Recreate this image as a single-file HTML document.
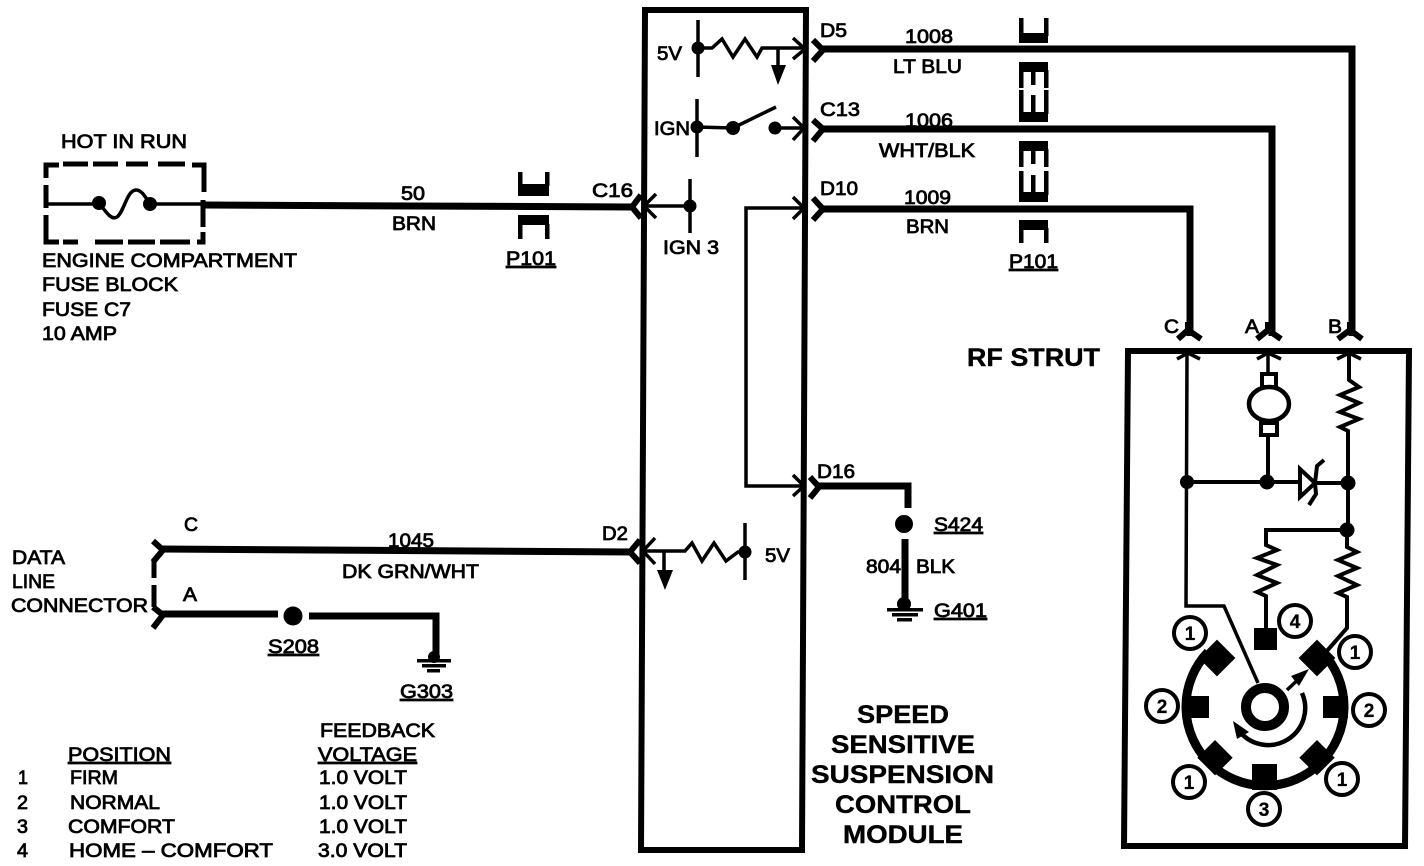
<!DOCTYPE html>
<html><head><meta charset="utf-8"><style>
html,body{margin:0;padding:0;background:#fff;width:1424px;height:866px;overflow:hidden}
svg{display:block}
text{font-family:"Liberation Sans",sans-serif;font-size:19.5px;fill:#000;stroke:#000;stroke-width:.8px}
.b{font-weight:bold;font-size:25px;stroke-width:.4px}
.n{font-weight:bold;font-size:19px;text-anchor:middle;stroke-width:.3px}
.w{fill:none;stroke:#000;stroke-linejoin:miter}
</style></head><body>
<svg width="1424" height="866" viewBox="0 0 1424 866" xmlns="http://www.w3.org/2000/svg">
<rect width="1424" height="866" fill="#fff"/>

<!-- boxes -->
<path class="w" stroke-width="6" d="M645 10H806L802 850H641Z"/>
<path class="w" stroke-width="6" d="M1128 351H1409L1405 846H1124Z"/>

<!-- thick wires -->
<g class="w" stroke-width="7">
<path d="M820 49H1352V336"/>
<path d="M820 129H1272V336"/>
<path d="M820 209H1190V336"/>
<path d="M204 205L632 207"/>
<path d="M160 549L632 552"/>
<path d="M160 614H278"/>
<path d="M309 616H436V660"/>
<path d="M818 486H908V508"/>
<path d="M905 539V602"/>
</g>
<!-- connector chevrons -->
<g class="w" stroke-width="6">
<path d="M813 40L823 50L813 61"/>
<path d="M813 120L823 129L813 141"/>
<path d="M813 198L823 209L813 220"/>
<path d="M810 477L819 487L810 498"/>
<path d="M641 195L632 207L641 218"/>
<path d="M640 540L630 552L640 563"/>
<path d="M153 541L163 550L153 562"/>
<path d="M153 607L163 615L153 628"/>
<path d="M154 560V578M154 585V607" stroke-width="5"/>
<path d="M1178 339L1188 330L1201 339M1188 322V332"/>
<path d="M1257 339L1268 330L1281 339M1268 322V332"/>
<path d="M1338 339L1350 330L1362 339M1350 322V332"/>
</g>
<!-- internal arrows -->
<g class="w" stroke-width="3.5">
<path d="M793 38L805 49L793 59"/>
<path d="M793 117L804 128L793 140"/>
<path d="M793 197L804 208L793 219"/>
<path d="M793 475L804 486L793 496"/>
<path d="M656 194L644 206L656 218"/>
<path d="M655 538L643 551L655 564"/>
<path d="M1177 359L1188 353L1200 359"/>
<path d="M1257 359L1268 353L1281 359"/>
<path d="M1337 359L1349 353L1361 359"/>
<!-- module internals -->
<path d="M698 20V77"/>
<path d="M702 48H712L722 39L733 57L745 39L757 57L762 48H805"/>
<path d="M778 49V70"/>
<path d="M697 99V157"/>
<path d="M697 127L733 128L776 107"/>
<path d="M775 128H804"/>
<path d="M690 179V233"/>
<path d="M690 206H645"/>
<path d="M804 208H746V486H804"/>
<path d="M645 551H685L692 543L702 561L714 543L726 561L738 552H745"/>
<path d="M664 551V575"/>
<path d="M745 523V580"/>
<!-- strut internals -->
<path d="M1187 355L1186 606H1224L1258 683"/>
<path d="M1268 355V374"/>
<path d="M1268 435V482" stroke-width="4"/>
<path d="M1187 482H1300" stroke-width="4"/>
<path d="M1315 483H1348" stroke-width="4"/>
<path d="M1349 355V380L1359 387L1340 395L1359 403L1340 412L1359 419L1340 427L1348 431V530" stroke-width="4"/>
<path d="M1347 530H1266V545L1277 550L1257 558L1277 565L1257 575L1277 583L1257 592L1266 596V630" stroke-width="4"/>
<path d="M1347 530V547L1357 552L1338 560L1357 568L1338 576L1357 585L1338 593L1347 597V628L1326 652" stroke-width="4"/>
<rect x="1262" y="374" width="14" height="13" stroke-width="4"/>
<rect x="1261" y="423" width="16" height="12" stroke-width="4"/>
<ellipse cx="1269" cy="404" rx="20" ry="17" stroke-width="4.5"/>
<path d="M1315 483L1300 469V497Z" stroke-width="4"/>
<path d="M1324 460L1317 466L1315 483L1316 494L1309 505" stroke-width="4"/>
</g>
<path d="M771 65H786L778 85Z"/>
<path d="M657 570H673L665 590Z"/>

<!-- nodes -->
<g>
<circle cx="698" cy="48" r="6.5"/><circle cx="697" cy="127" r="6.5"/><circle cx="733" cy="128" r="7"/><circle cx="775" cy="128" r="6.5"/>
<circle cx="690" cy="206" r="6.5"/><circle cx="745" cy="552" r="6.5"/>
<circle cx="904" cy="524" r="9"/><circle cx="293" cy="616" r="9.5"/>
<circle cx="1187" cy="482" r="7"/><circle cx="1267" cy="482" r="7.5"/><circle cx="1348" cy="483" r="7.5"/><circle cx="1347" cy="530" r="7.5"/>
<circle cx="99" cy="203" r="7"/><circle cx="150" cy="204" r="7"/>
</g>

<!-- fuse -->
<g class="w" stroke-width="4">
<path d="M47 204H99M150 204H204" stroke-width="3.5"/>
<path d="M99 203C108 215 112 220 117 217C124 212 127 190 136 190C142 190 146 198 150 204" stroke-width="3.5"/>
<path d="M59 165H46V178M63 164H88M93 164H118M126 164H148M158 164H185M192 165H204V192M46 185V208M46 215V242H59M63 242H78M95 242H123M128 242H155M160 242H190M197 242H203V232M203 200V227" stroke-width="5"/>
</g>

<!-- grounds -->
<g fill="#000">
<circle cx="904" cy="604" r="7"/>
<rect x="887" y="608" width="36" height="3.5"/><rect x="892" y="613" width="26" height="3.5"/><rect x="897" y="618" width="15" height="3.5"/>
<circle cx="434" cy="657" r="6"/>
<rect x="417" y="659" width="34" height="3.5"/><rect x="422" y="664" width="24" height="3.5"/><rect x="427" y="669" width="13" height="3.5"/>
</g>

<!-- P101 left -->
<g fill="#000">
<rect x="518" y="172" width="4.5" height="14"/><rect x="545" y="172" width="4.5" height="14"/><rect x="518" y="184" width="31" height="12"/>
<rect x="518" y="215" width="31" height="10"/><rect x="518" y="224" width="4.5" height="15"/><rect x="545" y="224" width="4.5" height="15"/>
<!-- P101 right stack -->
<rect x="1019" y="18" width="4.5" height="18"/><rect x="1044" y="18" width="4.5" height="18"/><rect x="1019" y="33" width="29" height="10"/>
<rect x="1019" y="62" width="29" height="10"/><rect x="1019" y="70" width="4.5" height="18"/><rect x="1031" y="70" width="4.5" height="15"/><rect x="1044" y="70" width="4.5" height="18"/>
<rect x="1019" y="90" width="4.5" height="24"/><rect x="1031" y="95" width="4.5" height="19"/><rect x="1044" y="90" width="4.5" height="24"/><rect x="1019" y="112" width="29" height="10"/>
<rect x="1019" y="141" width="29" height="10"/><rect x="1019" y="149" width="4.5" height="18"/><rect x="1031" y="149" width="4.5" height="15"/><rect x="1044" y="149" width="4.5" height="18"/>
<rect x="1019" y="171" width="4.5" height="24"/><rect x="1031" y="175" width="4.5" height="20"/><rect x="1044" y="171" width="4.5" height="24"/><rect x="1019" y="192" width="29" height="10"/>
<rect x="1019" y="220" width="29" height="10"/><rect x="1019" y="228" width="4.5" height="15"/><rect x="1044" y="228" width="4.5" height="15"/>
</g>

<!-- switch mechanism -->
<path class="w" stroke-width="9" d="M1208 652A79 79 0 1 0 1322 652"/>
<g fill="#000">
<rect x="1183" y="696" width="26" height="22"/><rect x="1323" y="696" width="25" height="22"/><rect x="1252" y="764" width="25" height="26"/>
<rect x="1204" y="645" width="26" height="26" transform="rotate(45 1217 658)"/>
<rect x="1304" y="645" width="26" height="26" transform="rotate(45 1317 658)"/>
<rect x="1203" y="745" width="25" height="25" transform="rotate(45 1215 757)"/>
<rect x="1305" y="745" width="25" height="25" transform="rotate(45 1317 757)"/>
<rect x="1254" y="628" width="23" height="22"/>
</g>
<circle cx="1265" cy="707" r="19" fill="#fff" stroke="#000" stroke-width="10"/>
<path class="w" stroke-width="3.5" d="M1287 690L1304 674"/>
<path d="M1309 669L1291 676L1299 686Z"/>
<path class="w" stroke-width="4.5" d="M1302 693A37 37 0 0 1 1240 732"/>
<path d="M1233 721L1249 732L1237 739Z"/>
<g fill="#fff" stroke="#000" stroke-width="4">
<circle cx="1190" cy="633" r="16"/><circle cx="1355" cy="652" r="16"/><circle cx="1162" cy="706" r="16"/><circle cx="1369" cy="710" r="16"/>
<circle cx="1189" cy="782" r="16"/><circle cx="1342" cy="779" r="16"/><circle cx="1264" cy="809" r="16"/><circle cx="1295" cy="621" r="16"/>
</g>
<text class="n" x="1190" y="640">1</text><text class="n" x="1355" y="659">1</text><text class="n" x="1162" y="713">2</text><text class="n" x="1369" y="717">2</text>
<text class="n" x="1189" y="789">1</text><text class="n" x="1342" y="786">1</text><text class="n" x="1264" y="816">3</text><text class="n" x="1295" y="628">4</text>

<!-- labels -->
<text x="61" y="148" textLength="126" lengthAdjust="spacingAndGlyphs">HOT IN RUN</text>
<text x="42" y="267" textLength="255" lengthAdjust="spacingAndGlyphs">ENGINE COMPARTMENT</text>
<text x="42" y="291" textLength="136" lengthAdjust="spacingAndGlyphs">FUSE BLOCK</text>
<text x="42" y="316" textLength="89" lengthAdjust="spacingAndGlyphs">FUSE C7</text>
<text x="42" y="340" textLength="75" lengthAdjust="spacingAndGlyphs">10 AMP</text>
<text x="401" y="200" textLength="24" lengthAdjust="spacingAndGlyphs">50</text>
<text x="392" y="230" textLength="44" lengthAdjust="spacingAndGlyphs">BRN</text>
<text x="592" y="197" textLength="41" lengthAdjust="spacingAndGlyphs">C16</text>
<text x="506" y="265" textLength="50" lengthAdjust="spacingAndGlyphs" text-decoration="underline">P101</text>
<text x="663" y="254" textLength="56" lengthAdjust="spacingAndGlyphs">IGN 3</text>
<text x="657" y="60" textLength="25" lengthAdjust="spacingAndGlyphs">5V</text>
<text x="654" y="135" textLength="36" lengthAdjust="spacingAndGlyphs">IGN</text>
<text x="820" y="37" textLength="27" lengthAdjust="spacingAndGlyphs">D5</text>
<text x="905" y="43" textLength="48" lengthAdjust="spacingAndGlyphs">1008</text>
<text x="893" y="73" textLength="69" lengthAdjust="spacingAndGlyphs">LT BLU</text>
<text x="820" y="116" textLength="40" lengthAdjust="spacingAndGlyphs">C13</text>
<text x="905" y="127" textLength="48" lengthAdjust="spacingAndGlyphs">1006</text>
<text x="879" y="157" textLength="96" lengthAdjust="spacingAndGlyphs">WHT/BLK</text>
<text x="820" y="195" textLength="38" lengthAdjust="spacingAndGlyphs">D10</text>
<text x="904" y="204" textLength="47" lengthAdjust="spacingAndGlyphs">1009</text>
<text x="906" y="233" textLength="43" lengthAdjust="spacingAndGlyphs">BRN</text>
<text x="1009" y="268" textLength="49" lengthAdjust="spacingAndGlyphs" text-decoration="underline">P101</text>
<text x="1164" y="333" textLength="15" lengthAdjust="spacingAndGlyphs">C</text>
<text x="1245" y="333" textLength="14" lengthAdjust="spacingAndGlyphs">A</text>
<text x="1328" y="333" textLength="14" lengthAdjust="spacingAndGlyphs">B</text>
<text class="b" x="967" y="366" textLength="133" lengthAdjust="spacingAndGlyphs">RF STRUT</text>
<text x="817" y="478" textLength="38" lengthAdjust="spacingAndGlyphs">D16</text>
<text x="602" y="540" textLength="26" lengthAdjust="spacingAndGlyphs">D2</text>
<text x="765" y="562" textLength="25" lengthAdjust="spacingAndGlyphs">5V</text>
<text x="866" y="573" textLength="35" lengthAdjust="spacingAndGlyphs">804</text>
<text x="916" y="573" textLength="39" lengthAdjust="spacingAndGlyphs">BLK</text>
<text x="934" y="531" textLength="49" lengthAdjust="spacingAndGlyphs" text-decoration="underline">S424</text>
<text x="934" y="617" textLength="53" lengthAdjust="spacingAndGlyphs" text-decoration="underline">G401</text>
<text x="12" y="564" textLength="53" lengthAdjust="spacingAndGlyphs">DATA</text>
<text x="12" y="588" textLength="43" lengthAdjust="spacingAndGlyphs">LINE</text>
<text x="11" y="612" textLength="137" lengthAdjust="spacingAndGlyphs">CONNECTOR</text>
<text x="184" y="531" textLength="14" lengthAdjust="spacingAndGlyphs">C</text>
<text x="183" y="601" textLength="14" lengthAdjust="spacingAndGlyphs">A</text>
<text x="388" y="547" textLength="46" lengthAdjust="spacingAndGlyphs">1045</text>
<text x="342" y="578" textLength="137" lengthAdjust="spacingAndGlyphs">DK GRN/WHT</text>
<text x="268" y="653" textLength="51" lengthAdjust="spacingAndGlyphs" text-decoration="underline">S208</text>
<text x="400" y="698" textLength="53" lengthAdjust="spacingAndGlyphs" text-decoration="underline">G303</text>

<!-- table -->
<text x="320" y="737" textLength="115" lengthAdjust="spacingAndGlyphs">FEEDBACK</text>
<text x="318" y="761" textLength="99" lengthAdjust="spacingAndGlyphs" text-decoration="underline">VOLTAGE</text>
<text x="68" y="761" textLength="103" lengthAdjust="spacingAndGlyphs" text-decoration="underline">POSITION</text>
<text x="18" y="784" textLength="10" lengthAdjust="spacingAndGlyphs">1</text>
<text x="70" y="784" textLength="48" lengthAdjust="spacingAndGlyphs">FIRM</text>
<text x="319" y="784" textLength="88" lengthAdjust="spacingAndGlyphs">1.0 VOLT</text>
<text x="17" y="809" textLength="11" lengthAdjust="spacingAndGlyphs">2</text>
<text x="70" y="809" textLength="90" lengthAdjust="spacingAndGlyphs">NORMAL</text>
<text x="319" y="809" textLength="88" lengthAdjust="spacingAndGlyphs">1.0 VOLT</text>
<text x="17" y="833" textLength="11" lengthAdjust="spacingAndGlyphs">3</text>
<text x="68" y="833" textLength="107" lengthAdjust="spacingAndGlyphs">COMFORT</text>
<text x="319" y="833" textLength="88" lengthAdjust="spacingAndGlyphs">1.0 VOLT</text>
<text x="17" y="857" textLength="11" lengthAdjust="spacingAndGlyphs">4</text>
<text x="69" y="857" textLength="204" lengthAdjust="spacingAndGlyphs">HOME – COMFORT</text>
<text x="318" y="857" textLength="89" lengthAdjust="spacingAndGlyphs">3.0 VOLT</text>

<!-- module title -->
<text class="b" x="857" y="723" textLength="92" lengthAdjust="spacingAndGlyphs">SPEED</text>
<text class="b" x="831" y="753" textLength="144" lengthAdjust="spacingAndGlyphs">SENSITIVE</text>
<text class="b" x="811" y="783" textLength="183" lengthAdjust="spacingAndGlyphs">SUSPENSION</text>
<text class="b" x="835" y="813" textLength="136" lengthAdjust="spacingAndGlyphs">CONTROL</text>
<text class="b" x="843" y="843" textLength="120" lengthAdjust="spacingAndGlyphs">MODULE</text>
</svg>
</body></html>
